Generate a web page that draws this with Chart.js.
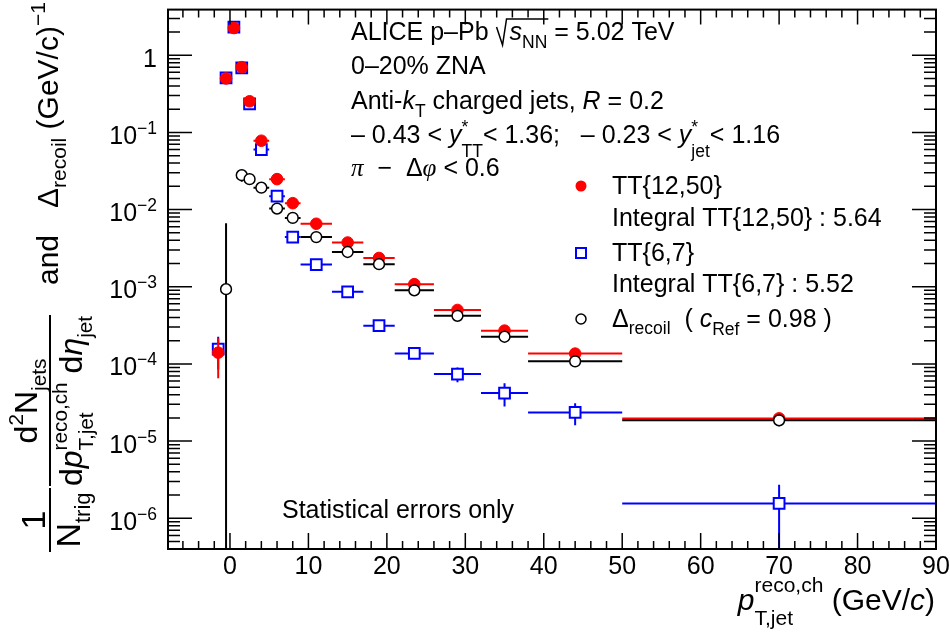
<!DOCTYPE html>
<html><head><meta charset="utf-8">
<script src="https://cdn.jsdelivr.net/npm/chart.js@4.4.1/dist/chart.umd.min.js"></script>
<style>html,body{margin:0;padding:0;background:#fff;}#wrap{width:950px;height:635px;}</style>
</head><body><div id="wrap"><canvas id="c" width="950" height="635"></canvas></div>
<script>
// ---- data ----
const binCenters    = [-1.5, -0.5, 0.5, 1.5, 2.5, 4, 6, 8, 11, 15, 19, 23.5, 29, 35, 44, 70];
const binHalfWidths = [0.5, 0.5, 0.5, 0.5, 0.5, 1, 1, 1, 2, 2, 2, 2.5, 3, 3, 6, 20];
const tt1250    = [1.4e-4, 0.50, 2.25, 0.70, 0.253, 0.078, 0.0248, 0.0121, 0.00655, 0.00374, 0.00236, 0.00108, 0.000500, 0.000270, 0.000136, 1.97e-5];
const tt1250Err = [7.5e-5, 0.01, 0.03, 0.01, 0.005, 0.002, 0.0006, 0.0003, 0.00015, 0.0001, 0.00007, 0.00004, 0.00002, 0.000015, 0.000007, 2.5e-6];
const tt67      = [1.55e-4, 0.51, 2.32, 0.685, 0.234, 0.060, 0.0149, 0.0044, 0.00194, 0.00086, 0.000313, 0.000137, 7.4e-5, 4.2e-5, 2.35e-5, 1.56e-6];
const tt67Err   = [7e-5, 0.01, 0.03, 0.01, 0.006, 0.003, 0.0008, 0.0003, 0.0001, 0.00006, 0.00003, 0.000018, 0.000016, 0.000014, 0.0000075, 0.00000115];
const recoil    = [null, 9.3e-4, null, 0.0279, 0.0248, 0.0192, 0.0103, 0.0078, 0.0044, 0.00282, 0.00196, 0.00090, 0.000420, 0.000225, 0.000108, 1.86e-5];
const recoilErr = [null, 0.0057, null, 0.005, 0.004, 0.0025, 0.0008, 0.0004, 0.0002, 0.00012, 0.00008, 0.00005, 0.00002, 0.000015, 0.000008, 3e-6];
const xTickValues = [0, 10, 20, 30, 40, 50, 60, 70, 80, 90];
const yTickExponents = [0, -1, -2, -3, -4, -5, -6];
const xRange = [-7.9, 90];
const yRange = [4e-7, 3.9];

const SANS = '"Liberation Sans", Arial, sans-serif';
const SERIF = '"Liberation Serif", serif';
function font(size, italic, fam) { return (italic ? 'italic ' : '') + size + 'px ' + (fam || SANS); }

function richRun(ctx, segs, F, x, y, draw, sc) {
  let cx = x;
  const sf = F * (sc || 0.7);
  for (const s of segs) {
    if (s.t) {
      ctx.font = font(F, s.i, s.f);
      if (draw) ctx.fillText(s.t, cx, y);
      cx += ctx.measureText(s.t).width;
    }
    const both = s.sup != null && s.sub != null;
    let adv = 0;
    if (s.sup != null) {
      const r = (s.supR != null ? s.supR : (both ? 0.55 : 0.42)) * F;
      ctx.font = font(sf, s.supI, s.supF);
      if (draw) ctx.fillText(s.sup, cx, y - r);
      adv = Math.max(adv, ctx.measureText(s.sup).width);
    }
    if (s.sub != null) {
      const d = (s.subD != null ? s.subD : (both ? 0.45 : 0.28)) * F;
      ctx.font = font(sf, s.subI, s.subF);
      if (draw) ctx.fillText(s.sub, cx + (s.subDx || 0), y + d);
      adv = Math.max(adv, ctx.measureText(s.sub).width + (s.subDx || 0));
    }
    cx += adv;
  }
  return cx - x;
}
function drawRich(ctx, x, y, segs, F, align, sc) {
  const w = richRun(ctx, segs, F, 0, 0, false, sc);
  const sx = align === 'right' ? x - w : (align === 'center' ? x - w / 2 : x);
  richRun(ctx, segs, F, sx, y, true, sc);
  return sx + w;
}

const errSets = [
  {vals: recoil, errs: recoilErr, color: '#000000'},
  {vals: tt1250, errs: tt1250Err, color: '#ff0000'},
  {vals: tt67, errs: tt67Err, color: '#0000ff'}
];

const rootPlugin = {
  id: 'rootPlugin',
  beforeDraw(chart) {
    const ctx = chart.ctx;
    ctx.save(); ctx.fillStyle = '#fff'; ctx.fillRect(0, 0, chart.width, chart.height); ctx.restore();
  },
  beforeDatasetDraw(chart, args) {
    const set = errSets[args.index];
    const ctx = chart.ctx, xs = chart.scales.x, ys = chart.scales.y, a = chart.chartArea;
    ctx.save();
    ctx.beginPath(); ctx.rect(a.left, a.top, a.right - a.left, a.bottom - a.top); ctx.clip();
    ctx.strokeStyle = set.color; ctx.lineWidth = 2;
    binCenters.forEach((xc, i) => {
      const v = set.vals[i];
      if (v == null) return;
      const px = xs.getPixelForValue(xc), py = ys.getPixelForValue(v);
      const x0 = xs.getPixelForValue(xc - binHalfWidths[i]), x1 = xs.getPixelForValue(xc + binHalfWidths[i]);
      ctx.beginPath(); ctx.moveTo(x0, py); ctx.lineTo(x1, py); ctx.stroke();
      const e = set.errs[i];
      if (e) {
        const top = ys.getPixelForValue(v + e);
        const bot = (v - e) > 0 ? ys.getPixelForValue(v - e) : a.bottom + 5;
        ctx.beginPath(); ctx.moveTo(px, top); ctx.lineTo(px, bot); ctx.stroke();
      }
    });
    ctx.restore();
  },
  afterDraw(chart) {
    const ctx = chart.ctx, xs = chart.scales.x, ys = chart.scales.y, a = chart.chartArea;
    ctx.save();
    ctx.strokeStyle = '#000'; ctx.fillStyle = '#000';
    ctx.textBaseline = 'alphabetic'; ctx.textAlign = 'left';
    // frame
    ctx.lineWidth = 2;
    ctx.strokeRect(a.left, a.top, a.right - a.left, a.bottom - a.top);
    // x ticks
    ctx.lineWidth = 1.5;
    for (let v = -6; v <= 90; v += 2) {
      const px = xs.getPixelForValue(v);
      const major = xTickValues.includes(v);
      const Lb = major ? 16 : 8, Lt = major ? 15 : 8;
      ctx.beginPath();
      ctx.moveTo(px, a.bottom); ctx.lineTo(px, a.bottom - Lb);
      ctx.moveTo(px, a.top); ctx.lineTo(px, a.top + Lt);
      ctx.stroke();
    }
    // y ticks
    for (let e = -7; e <= 0; e++) {
      for (let k = 1; k <= 9; k++) {
        const v = k * Math.pow(10, e);
        if (v < yRange[0] || v > yRange[1]) continue;
        const py = ys.getPixelForValue(v);
        const L = k === 1 ? 24 : 12;
        ctx.beginPath();
        ctx.moveTo(a.left, py); ctx.lineTo(a.left + L, py);
        ctx.moveTo(a.right, py); ctx.lineTo(a.right - L, py);
        ctx.stroke();
      }
    }
    // x tick labels
    ctx.font = font(25);
    ctx.textAlign = 'center';
    xTickValues.forEach(v => ctx.fillText(String(v), xs.getPixelForValue(v), 574));
    ctx.textAlign = 'left';
    // y tick labels
    yTickExponents.forEach(ex => {
      const py = ys.getPixelForValue(Math.pow(10, ex));
      if (ex === 0) drawRich(ctx, 157, py + 11.5, [{t: '1'}], 25, 'right');
      else drawRich(ctx, 157, py + 11.5, [{t: '10', sup: '\u2212' + (-ex), supR: 0.4}], 25, 'right');
    });
    // x title
    drawRich(ctx, 935, 610, [{t: 'p', i: true, sup: 'reco,ch', sub: 'T,jet', supR: 0.6, subD: 0.5}, {t: ' (GeV/'}, {t: 'c', i: true}, {t: ')'}], 30, 'right');
    // y title (rotated)
    ctx.save();
    ctx.translate(0, 635); ctx.rotate(-Math.PI / 2);
    const FF = 32, SC = 0.65;
    drawRich(ctx, 115, 45, [{t: '1'}], FF + 2, 'center', SC);
    drawRich(ctx, 115, 80, [{t: 'N', sub: 'trig', subD: 0.3}], FF + 2, 'center', SC);
    drawRich(ctx, 234, 37, [{t: 'd', sup: '2', supR: 0.45}, {t: 'N', sub: 'jets', subD: 0.27}], FF, 'center', SC);
    drawRich(ctx, 234, 82, [{t: 'd'}, {t: 'p', i: true, sup: 'reco,ch', sub: 'T,jet', supR: 0.47, subD: 0.33}, {t: ' d'}, {t: '\u03B7', i: true, sub: 'jet', subD: 0.3}], FF, 'center', SC);
    ctx.lineWidth = 2;
    ctx.beginPath();
    ctx.moveTo(83, 50); ctx.lineTo(147, 50);
    ctx.moveTo(149, 50); ctx.lineTo(320, 50);
    ctx.stroke();
    const F = 30;
    drawRich(ctx, 350, 58, [{t: 'and'}], F, 'left');
    drawRich(ctx, 427, 58, [{t: '\u0394', sub: 'recoil', subD: 0.28}, {t: ' (GeV/c)', sup: '\u22121', supR: 0.45}], F, 'left');
    ctx.restore();

    // annotation text
    const T = 25, X0 = 351;
    let x1 = drawRich(ctx, X0, 40, [{t: 'ALICE p\u2013Pb '}], T, 'left');
    const rx = x1 + 1;
    let x2 = drawRich(ctx, rx + 13, 40, [{t: 's', i: true, sub: 'NN', subD: 0.3}], T, 'left');
    ctx.lineWidth = 1.5;
    ctx.beginPath();
    ctx.moveTo(rx, 40 - 13); ctx.lineTo(rx + 6, 40 + 5); ctx.lineTo(rx + 10, 40 - 21); ctx.lineTo(x2 + 1, 40 - 21);
    ctx.stroke();
    drawRich(ctx, x2, 40, [{t: ' = 5.02 TeV'}], T, 'left');
    drawRich(ctx, X0, 74, [{t: '0\u201320% ZNA'}], T, 'left');
    drawRich(ctx, X0, 109, [{t: 'Anti-'}, {t: 'k', i: true, sub: 'T', subD: 0.32}, {t: ' charged jets, '}, {t: 'R', i: true}, {t: ' = 0.2'}], T, 'left');
    drawRich(ctx, X0, 143, [{t: '\u2013 0.43 < '}, {t: 'y', i: true, sup: '*', sub: 'TT', supR: 0.42, subD: 0.56}, {t: '< 1.36;   \u2013 0.23 < '}, {t: 'y', i: true, sup: '*', sub: 'jet', supR: 0.42, subD: 0.56}, {t: '< 1.16'}], T, 'left');
    drawRich(ctx, X0, 176, [{t: '\u03C0', i: true, f: SERIF}, {t: '  \u2212  \u0394'}, {t: '\u03C6', i: true, f: SERIF}, {t: ' < 0.6'}], T, 'left');

    // legend
    const LX = 612, MX = 581;
    ctx.fillStyle = '#ff0000';
    ctx.beginPath(); ctx.arc(MX, 186, 5.5, 0, Math.PI * 2); ctx.fill();
    ctx.strokeStyle = '#0000ff'; ctx.lineWidth = 2;
    ctx.strokeRect(MX - 5, 253 - 5, 10, 10);
    ctx.strokeStyle = '#000'; ctx.lineWidth = 1.5;
    ctx.beginPath(); ctx.arc(MX, 319, 5, 0, Math.PI * 2); ctx.stroke();
    ctx.fillStyle = '#000';
    drawRich(ctx, LX, 194, [{t: 'TT{12,50}'}], T, 'left');
    drawRich(ctx, LX, 226, [{t: 'Integral TT{12,50} : 5.64'}], T, 'left');
    drawRich(ctx, LX, 261, [{t: 'TT{6,7}'}], T, 'left');
    drawRich(ctx, LX, 292, [{t: 'Integral TT{6,7} : 5.52'}], T, 'left');
    drawRich(ctx, LX, 327, [{t: '\u0394', sub: 'recoil', subD: 0.26}, {t: '  ( '}, {t: 'c', i: true, sub: 'Ref', subD: 0.3}, {t: ' = 0.98 )'}], T, 'left');

    drawRich(ctx, 282, 518, [{t: 'Statistical errors only'}], T, 'left');
    ctx.restore();
  }
};

function pts(vals) {
  return binCenters.map((x, i) => ({x: x, y: vals[i]})).filter(p => p.y != null);
}

new Chart(document.getElementById('c'), {
  type: 'scatter',
  data: {
    datasets: [
      {label: 'Δrecoil', data: pts(recoil), pointStyle: 'circle', pointRadius: 5.4, pointBackgroundColor: '#ffffff', pointBorderColor: '#000000', pointBorderWidth: 1.5},
      {label: 'TT{12,50}', data: pts(tt1250), pointStyle: 'circle', pointRadius: 5.8, pointBackgroundColor: '#ff0000', pointBorderColor: '#ff0000', pointBorderWidth: 1},
      {label: 'TT{6,7}', data: pts(tt67), pointStyle: 'rect', pointRadius: 7.6, pointBackgroundColor: '#ffffff', pointBorderColor: '#0000ff', pointBorderWidth: 2}
    ]
  },
  options: {
    responsive: false,
    animation: false,
    devicePixelRatio: 1,
    events: [],
    layout: {padding: {left: 168, top: 2, right: 14, bottom: 86}},
    plugins: {legend: {display: false}, tooltip: {enabled: false}},
    scales: {
      x: {type: 'linear', display: false, min: xRange[0], max: xRange[1], bounds: 'data'},
      y: {type: 'logarithmic', display: false, min: yRange[0], max: yRange[1], bounds: 'data'}
    }
  },
  plugins: [rootPlugin]
});
</script>
</body></html>
